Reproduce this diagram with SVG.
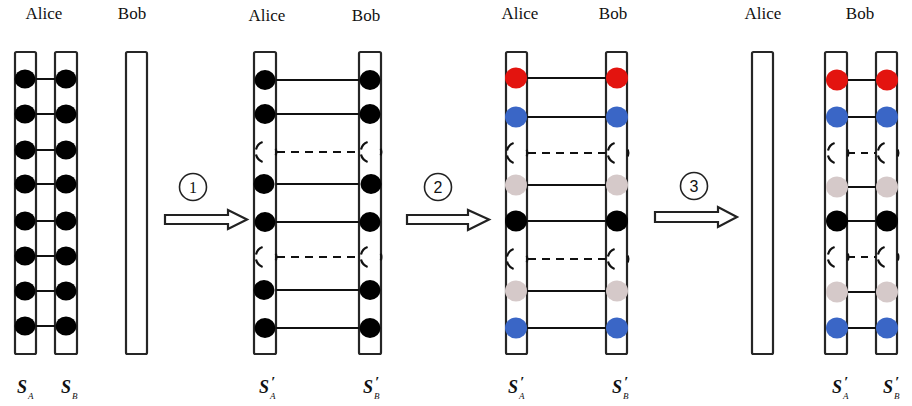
<svg xmlns="http://www.w3.org/2000/svg" xmlns:xlink="http://www.w3.org/1999/xlink" width="912" height="406" viewBox="0 0 912 406">
<style>
.bg{fill:#fff}
.tube{fill:#fff;stroke:#262626;stroke-width:2.2}
.lbl{font-family:"Liberation Serif","Times New Roman","DejaVu Serif",serif;font-size:17px;fill:#111;text-anchor:middle}
.S{font-family:"Liberation Serif","Times New Roman","DejaVu Serif",serif;font-size:18px;font-style:italic;font-weight:bold;fill:#111}
.sub{font-family:"Liberation Serif","Times New Roman","DejaVu Serif",serif;font-size:9px;font-style:italic;fill:#111}
.pr{font-family:"Liberation Serif","Times New Roman","DejaVu Serif",serif;font-size:15px;font-style:italic;font-weight:bold;fill:#111}
.k{fill:#000}
.r{fill:#e3140f}
.b{fill:#3a66c6}
.g{fill:#d5c9c9}
.bond{stroke:#111;stroke-width:2;fill:none}
.dash{stroke:#111;stroke-width:2.2;fill:none;stroke-dasharray:8 6}
.brk{stroke:#111;stroke-width:2.2;fill:none}
.arr{fill:#fff;stroke:#222;stroke-width:2.2;stroke-linejoin:miter}
.num{fill:#fff;stroke:#222;stroke-width:1.6}
.numt{font-size:16px;fill:#111;text-anchor:middle}
.ser{font-family:"Liberation Serif","Times New Roman","DejaVu Serif",serif}
.san{font-family:"Liberation Sans",Arial,sans-serif}
</style>
<defs>
<g id="broken">
<path class="brk" d="M -10 -2.6 A 10.5 10.5 0 0 1 -3.4 -10"/>
<path class="brk" d="M -10 2.6 A 10.5 10.5 0 0 0 -3.4 10"/>
<path class="brk" d="M 9.8 -3.4 A 10.5 10.5 0 0 1 9.8 3.4"/>
</g>
</defs>
<rect class="bg" x="0" y="0" width="912" height="406"/>

<!-- Panel 1 -->
<g id="panel1">
<text class="lbl" x="44" y="19">Alice</text>
<text class="lbl" x="132" y="19">Bob</text>
<rect class="tube" x="15" y="52" width="21" height="302" rx="1.5"/>
<rect class="tube" x="55" y="52" width="22" height="302" rx="1.5"/>
<rect class="tube" x="126" y="52" width="21" height="302" rx="1.5"/>
<g id="p1-bonds">
<line class="bond" x1="36" y1="79" x2="55" y2="79"/>
<line class="bond" x1="36" y1="114" x2="55" y2="114"/>
<line class="bond" x1="36" y1="150" x2="55" y2="150"/>
<line class="bond" x1="36" y1="184" x2="55" y2="184"/>
<line class="bond" x1="36" y1="221" x2="55" y2="221"/>
<line class="bond" x1="36" y1="256" x2="55" y2="256"/>
<line class="bond" x1="36" y1="291" x2="55" y2="291"/>
<line class="bond" x1="36" y1="326" x2="55" y2="326"/>
</g>
<g id="p1-dots">
<ellipse class="k" cx="25" cy="79" rx="10.5" ry="9.5"/><ellipse class="k" cx="66" cy="79" rx="10.5" ry="9.5"/>
<ellipse class="k" cx="25" cy="114" rx="10.5" ry="9.5"/><ellipse class="k" cx="66" cy="114" rx="10.5" ry="9.5"/>
<ellipse class="k" cx="25" cy="150" rx="10.5" ry="9.5"/><ellipse class="k" cx="66" cy="150" rx="10.5" ry="9.5"/>
<ellipse class="k" cx="25" cy="184" rx="10.5" ry="9.5"/><ellipse class="k" cx="66" cy="184" rx="10.5" ry="9.5"/>
<ellipse class="k" cx="25" cy="221" rx="10.5" ry="9.5"/><ellipse class="k" cx="66" cy="221" rx="10.5" ry="9.5"/>
<ellipse class="k" cx="25" cy="256" rx="10.5" ry="9.5"/><ellipse class="k" cx="66" cy="256" rx="10.5" ry="9.5"/>
<ellipse class="k" cx="25" cy="291" rx="10.5" ry="9.5"/><ellipse class="k" cx="66" cy="291" rx="10.5" ry="9.5"/>
<ellipse class="k" cx="25" cy="326" rx="10.5" ry="9.5"/><ellipse class="k" cx="66" cy="326" rx="10.5" ry="9.5"/>
</g>
<text class="S" x="17" y="393">S</text><text class="sub" x="28" y="399">A</text>
<text class="S" x="61" y="393">S</text><text class="sub" x="72" y="399">B</text>
</g>

<!-- Panel 2 -->
<g id="panel2">
<text class="lbl" x="267" y="21">Alice</text>
<text class="lbl" x="366" y="21">Bob</text>
<rect class="tube" x="254" y="52" width="22" height="302" rx="1.5"/>
<rect class="tube" x="359" y="52" width="22" height="302" rx="1.5"/>
<g id="p2-bonds">
<line class="bond" x1="276" y1="80" x2="359" y2="80"/>
<line class="bond" x1="276" y1="114" x2="359" y2="114"/>
<line class="dash" x1="277" y1="152" x2="359" y2="152"/>
<line class="bond" x1="276" y1="184" x2="359" y2="184"/>
<line class="bond" x1="276" y1="222" x2="359" y2="222"/>
<line class="dash" x1="277" y1="257" x2="359" y2="257"/>
<line class="bond" x1="276" y1="290" x2="359" y2="290"/>
<line class="bond" x1="276" y1="328" x2="359" y2="328"/>
</g>
<g id="p2-dots">
<ellipse class="k" cx="265" cy="80" rx="10.5" ry="10"/><ellipse class="k" cx="370" cy="80" rx="10.5" ry="10"/>
<ellipse class="k" cx="265" cy="114" rx="10.5" ry="10"/><ellipse class="k" cx="370" cy="114" rx="10.5" ry="10"/>
<use xlink:href="#broken" x="266" y="152"/><use xlink:href="#broken" x="371" y="152"/>
<ellipse class="k" cx="264" cy="184" rx="10.5" ry="10"/><ellipse class="k" cx="371" cy="184" rx="10.5" ry="10"/>
<ellipse class="k" cx="265" cy="222" rx="10.5" ry="10"/><ellipse class="k" cx="370" cy="222" rx="10.5" ry="10"/>
<use xlink:href="#broken" x="266" y="257"/><use xlink:href="#broken" x="371" y="257"/>
<ellipse class="k" cx="264" cy="290" rx="10.5" ry="10"/><ellipse class="k" cx="370" cy="290" rx="10.5" ry="10"/>
<ellipse class="k" cx="265" cy="328" rx="10.5" ry="10"/><ellipse class="k" cx="370" cy="328" rx="10.5" ry="10"/>
</g>
<text class="S" x="259" y="393">S</text><text class="pr" x="271" y="387">′</text><text class="sub" x="270" y="399">A</text>
<text class="S" x="363" y="393">S</text><text class="pr" x="375" y="387">′</text><text class="sub" x="374" y="399">B</text>
</g>

<!-- Panel 3 -->
<g id="panel3">
<text class="lbl" x="520" y="19">Alice</text>
<text class="lbl" x="613" y="19">Bob</text>
<rect class="tube" x="506" y="52" width="21" height="302" rx="1.5"/>
<rect class="tube" x="606" y="52" width="21" height="302" rx="1.5"/>
<g id="p3-bonds">
<line class="bond" x1="527" y1="78" x2="606" y2="78"/>
<line class="bond" x1="527" y1="117" x2="606" y2="117"/>
<line class="dash" x1="528" y1="153" x2="606" y2="153"/>
<line class="bond" x1="527" y1="185" x2="606" y2="185"/>
<line class="bond" x1="527" y1="221" x2="606" y2="221"/>
<line class="dash" x1="528" y1="259" x2="606" y2="259"/>
<line class="bond" x1="527" y1="291" x2="606" y2="291"/>
<line class="bond" x1="527" y1="328" x2="606" y2="328"/>
</g>
<g id="p3-dots">
<ellipse class="r" cx="516" cy="78" rx="11" ry="10.5"/><ellipse class="r" cx="617" cy="78" rx="11" ry="10.5"/>
<ellipse class="b" cx="516" cy="117" rx="11" ry="10.5"/><ellipse class="b" cx="617" cy="117" rx="11" ry="10.5"/>
<use xlink:href="#broken" x="517" y="153"/><use xlink:href="#broken" x="618" y="153"/>
<ellipse class="g" cx="516" cy="185" rx="11" ry="10.5"/><ellipse class="g" cx="617" cy="185" rx="11" ry="10.5"/>
<ellipse class="k" cx="516" cy="221" rx="11" ry="10.5"/><ellipse class="k" cx="617" cy="221" rx="11" ry="10.5"/>
<use xlink:href="#broken" x="517" y="259"/><use xlink:href="#broken" x="618" y="259"/>
<ellipse class="g" cx="516" cy="291" rx="11" ry="10.5"/><ellipse class="g" cx="617" cy="291" rx="11" ry="10.5"/>
<ellipse class="b" cx="516" cy="328" rx="11" ry="10.5"/><ellipse class="b" cx="617" cy="328" rx="11" ry="10.5"/>
</g>
<text class="S" x="508" y="393">S</text><text class="pr" x="520" y="387">′</text><text class="sub" x="519" y="399">A</text>
<text class="S" x="612" y="393">S</text><text class="pr" x="624" y="387">′</text><text class="sub" x="623" y="399">B</text>
</g>

<!-- Panel 4 -->
<g id="panel4">
<text class="lbl" x="763" y="19">Alice</text>
<text class="lbl" x="860" y="19">Bob</text>
<rect class="tube" x="752" y="52" width="21" height="302" rx="1.5"/>
<rect class="tube" x="825" y="52" width="22" height="302" rx="1.5"/>
<rect class="tube" x="876" y="52" width="21" height="302" rx="1.5"/>
<g id="p4-bonds">
<line class="bond" x1="847" y1="80" x2="876" y2="80"/>
<line class="bond" x1="847" y1="117" x2="876" y2="117"/>
<line class="dash" x1="848" y1="153" x2="876" y2="153" style="stroke-dasharray:7 6"/>
<line class="bond" x1="847" y1="187" x2="876" y2="187"/>
<line class="bond" x1="847" y1="221" x2="876" y2="221"/>
<line class="dash" x1="848" y1="257" x2="876" y2="257" style="stroke-dasharray:7 6"/>
<line class="bond" x1="847" y1="292" x2="876" y2="292"/>
<line class="bond" x1="847" y1="328" x2="876" y2="328"/>
</g>
<g id="p4-dots">
<ellipse class="r" cx="837" cy="80" rx="11" ry="10.5"/><ellipse class="r" cx="887" cy="80" rx="11" ry="10.5"/>
<ellipse class="b" cx="837" cy="117" rx="11" ry="10.5"/><ellipse class="b" cx="887" cy="117" rx="11" ry="10.5"/>
<use xlink:href="#broken" x="838" y="153"/><use xlink:href="#broken" x="888" y="153"/>
<ellipse class="g" cx="837" cy="187" rx="11" ry="10.5"/><ellipse class="g" cx="887" cy="187" rx="11" ry="10.5"/>
<ellipse class="k" cx="837" cy="221" rx="11" ry="10.5"/><ellipse class="k" cx="887" cy="221" rx="11" ry="10.5"/>
<use xlink:href="#broken" x="838" y="257"/><use xlink:href="#broken" x="888" y="257"/>
<ellipse class="g" cx="837" cy="292" rx="11" ry="10.5"/><ellipse class="g" cx="887" cy="292" rx="11" ry="10.5"/>
<ellipse class="b" cx="837" cy="328" rx="11" ry="10.5"/><ellipse class="b" cx="887" cy="328" rx="11" ry="10.5"/>
</g>
<text class="S" x="832" y="393">S</text><text class="pr" x="844" y="387">′</text><text class="sub" x="843" y="399">A</text>
<text class="S" x="883" y="393">S</text><text class="pr" x="895" y="387">′</text><text class="sub" x="894" y="399">B</text>
</g>

<!-- Connectors: step arrows -->
<g id="connectors">
<g id="step1">
<circle class="num" cx="193" cy="187" r="13.5"/>
<text class="numt ser" x="193" y="193">1</text>
<polygon class="arr" points="165,215 228,215 228,210 247,219.5 228,229 228,224 165,224"/>
</g>
<g id="step2">
<circle class="num" cx="438" cy="187" r="13.5"/>
<text class="numt san" x="438" y="193">2</text>
<polygon class="arr" points="407,215 468,215 468,210 489,219.5 468,230 468,224 407,224"/>
</g>
<g id="step3">
<circle class="num" cx="694" cy="186" r="13.5"/>
<text class="numt san" x="694" y="192">3</text>
<polygon class="arr" points="655,212 718,212 718,207 737,217 718,227 718,222 655,222"/>
</g>
</g>
</svg>
